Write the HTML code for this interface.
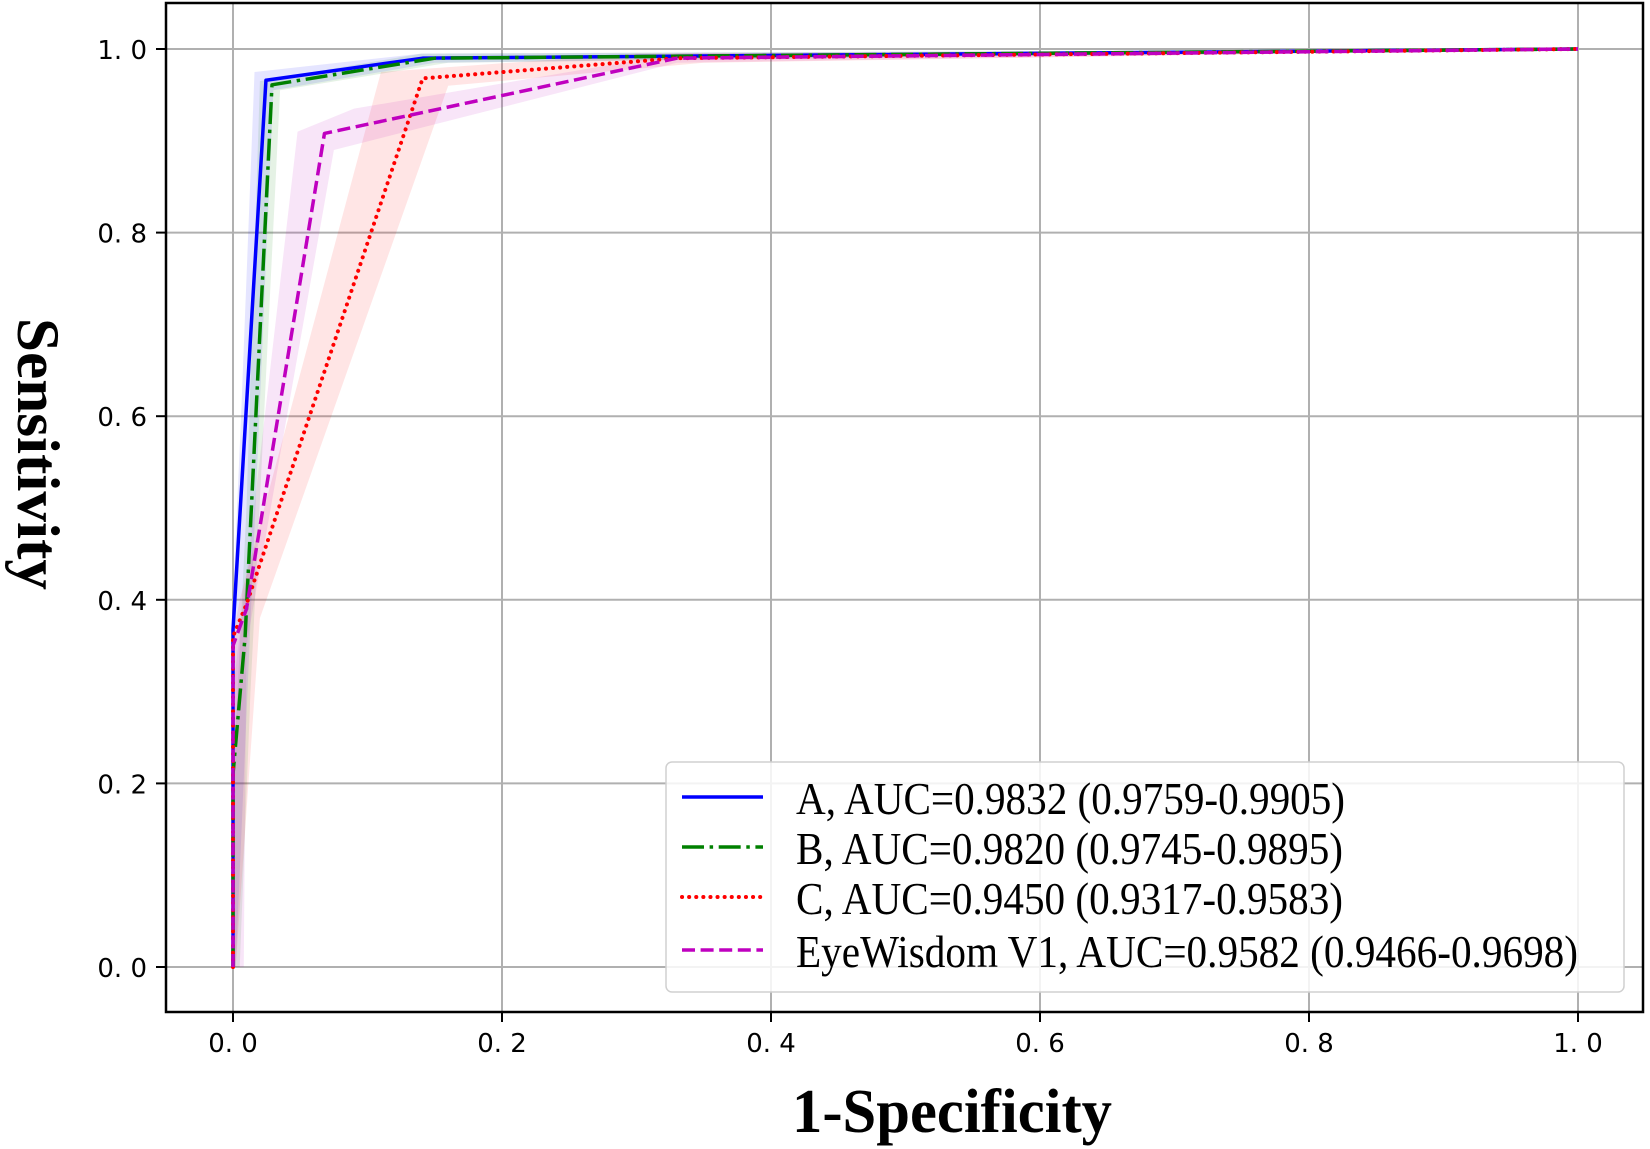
<!DOCTYPE html>
<html><head><meta charset="utf-8"><style>
html,body{margin:0;padding:0;background:#fff;}
svg{display:block;}
</style></head><body>
<svg id="chart" width="1650" height="1149" viewBox="0 0 1650 1149" xmlns="http://www.w3.org/2000/svg">
<g id="grid"></g>
<g id="bands"></g>
<g id="lines"></g>
<rect x="166" y="3" width="1477" height="1009" fill="none" stroke="#000" stroke-width="2.5"/>
<g id="ticks"></g>
<text x="952" y="1132" text-anchor="middle" font-family="Liberation Serif, serif" font-weight="bold" font-size="62" textLength="320" lengthAdjust="spacingAndGlyphs">1-Specificity</text>
<text transform="translate(18,454) rotate(90)" x="0" y="0" text-anchor="middle" font-family="Liberation Serif, serif" font-weight="bold" font-size="60" textLength="272" lengthAdjust="spacingAndGlyphs">Sensitivity</text>
<g id="legend">
<rect x="666" y="762" width="958" height="230" rx="6" fill="#fff" fill-opacity="0.85" stroke="#d0d0d0" stroke-width="1.5"/>
</g>
</svg>
<script>
const xTicks = [0, 0.2, 0.4, 0.6, 0.8, 1.0];
const yTicks = [0, 0.2, 0.4, 0.6, 0.8, 1.0];
const xTickLabels = ["0. 0","0. 2","0. 4","0. 6","0. 8","1. 0"];
const yTickLabels = ["0. 0","0. 2","0. 4","0. 6","0. 8","1. 0"];
const seriesNames = ["A, AUC=0.9832 (0.9759-0.9905)","B, AUC=0.9820 (0.9745-0.9895)","C, AUC=0.9450 (0.9317-0.9583)","EyeWisdom V1, AUC=0.9582 (0.9466-0.9698)"];
const aX = [0, 0, 0.0245, 0.141, 1];
const aY = [0, 0.367, 0.966, 0.990, 1];
const bX = [0, 0, 0.009, 0.029, 0.15, 1];
const bY = [0, 0.21, 0.36, 0.961, 0.99, 1];
const cX = [0, 0, 0.01, 0.141, 0.33, 1];
const cY = [0, 0.36, 0.395, 0.968, 0.99, 1];
const dX = [0, 0, 0.01, 0.068, 0.33, 1];
const dY = [0, 0.35, 0.39, 0.908, 0.99, 1];
const aUpX = [0, 0, 0.006, 0.016, 0.14, 1];
const aUpY = [0, 0.4, 0.6, 0.975, 0.995, 1];
const aLoX = [0.002, 0.03, 0.15, 1];
const aLoY = [0, 0.955, 0.985, 1];
const bUpX = [0, 0, 0.01, 0.02, 0.14, 1];
const bUpY = [0, 0.2, 0.5, 0.965, 0.995, 1];
const bLoX = [0.005, 0.013, 0.035, 0.16, 1];
const bLoY = [0, 0.3, 0.955, 0.985, 1];
const cUpX = [0, 0, 0.005, 0.11, 0.3, 1];
const cUpY = [0, 0.36, 0.40, 0.975, 0.995, 1];
const cLoX = [0.002, 0.02, 0.16, 0.35, 1];
const cLoY = [0, 0.38, 0.96, 0.985, 1];
const dUpX = [0, 0, 0.048, 0.09, 0.33, 1];
const dUpY = [0, 0.3, 0.91, 0.935, 0.995, 1];
const dLoX = [0.008, 0.01, 0.075, 0.33, 1];
const dLoY = [0, 0.35, 0.89, 0.985, 1];

const NS = "http://www.w3.org/2000/svg";
const X0 = 233, XS = 1345, Y0 = 967, YS = 918;
function sx(v){ return X0 + v*XS; }
function sy(v){ return Y0 - v*YS; }
function mk(tag, attrs, parent){ const e=document.createElementNS(NS,tag); for(const k in attrs) e.setAttribute(k,attrs[k]); parent.appendChild(e); return e; }

const grid=document.getElementById('grid'), ticks=document.getElementById('ticks');
xTicks.forEach((v,i)=>{
  const g=mk('line',{x1:sx(v),x2:sx(v),y1:3,y2:1012,stroke:'#b0b0b0','stroke-width':2},grid);
  
  
  const t=mk('line',{x1:sx(v),x2:sx(v),y1:1012,y2:1022,stroke:'#000','stroke-width':2},ticks);
  
  
  const l=mk('text',{x:sx(v),y:1052,'text-anchor':'middle','font-family':'DejaVu Sans, Liberation Sans, sans-serif','font-size':26},ticks);
  
  
  l.setAttribute('xml:space','preserve');
  l.textContent=xTickLabels[i];
});
yTicks.forEach((v,i)=>{
  const g=mk('line',{x1:166,x2:1643,y1:sy(v),y2:sy(v),stroke:'#b0b0b0','stroke-width':2},grid);
  
  
  const t=mk('line',{x1:156,x2:166,y1:sy(v),y2:sy(v),stroke:'#000','stroke-width':2},ticks);
  
  
  const l=mk('text',{x:147,y:sy(v)+10,'text-anchor':'end','font-family':'DejaVu Sans, Liberation Sans, sans-serif','font-size':26},ticks);
  
  
  l.textContent=yTickLabels[i];
});

const colors=['#0000ff','#008000','#ff0000','#bf00bf'];
const dashes=['none','22 5.6 3.5 5.6','0.1 7','13 5.6'];
const caps=['butt','butt','round','butt'];
const curves=[[aX,aY],[bX,bY],[cX,cY],[dX,dY]];
const bandsData=[[aUpX,aUpY,aLoX,aLoY],[bUpX,bUpY,bLoX,bLoY],[cUpX,cUpY,cLoX,cLoY],[dUpX,dUpY,dLoX,dLoY]];
const names=['a','b','c','eyewisdom'];
const bandG=document.getElementById('bands'), lineG=document.getElementById('lines');
bandsData.forEach((b,i)=>{
  const pts=[];
  b[0].forEach((x,j)=>pts.push(sx(x)+','+sy(b[1][j])));
  for(let j=b[2].length-1;j>=0;j--) pts.push(sx(b[2][j])+','+sy(b[3][j]));
  const p=mk('polygon',{points:pts.join(' '),fill:colors[i],'fill-opacity':0.1},bandG);
  
  
});
[0,1,2,3].forEach(i=>{
  const c=curves[i];
  const pts=c[0].map((x,j)=>sx(x)+','+sy(c[1][j])).join(' ');
  const attrs={points:pts,fill:'none',stroke:colors[i],'stroke-width':i===2?4:3.5,'stroke-linecap':caps[i],'stroke-linejoin':'round'};
  if(dashes[i]!=='none') attrs['stroke-dasharray']=dashes[i];
  const p=mk('polyline',attrs,lineG);
  
  
});
const leg=document.getElementById('legend');
const rowY=[797,847,897,950];
const textLens=[549,547,547,782];
seriesNames.forEach((n,i)=>{
  const attrs={x1:682,x2:763,y1:rowY[i],y2:rowY[i],stroke:colors[i],'stroke-width':i===2?4:3.5,'stroke-linecap':caps[i]};
  if(dashes[i]!=='none') attrs['stroke-dasharray']=dashes[i];
  const l=mk('line',attrs,leg);
  
  
  const t=mk('text',{x:796,y:rowY[i]+17,'font-family':'Liberation Serif, serif','font-size':46,textLength:textLens[i],lengthAdjust:'spacingAndGlyphs'},leg);
  
  
  t.textContent=n;
});
</script>
</body></html>
